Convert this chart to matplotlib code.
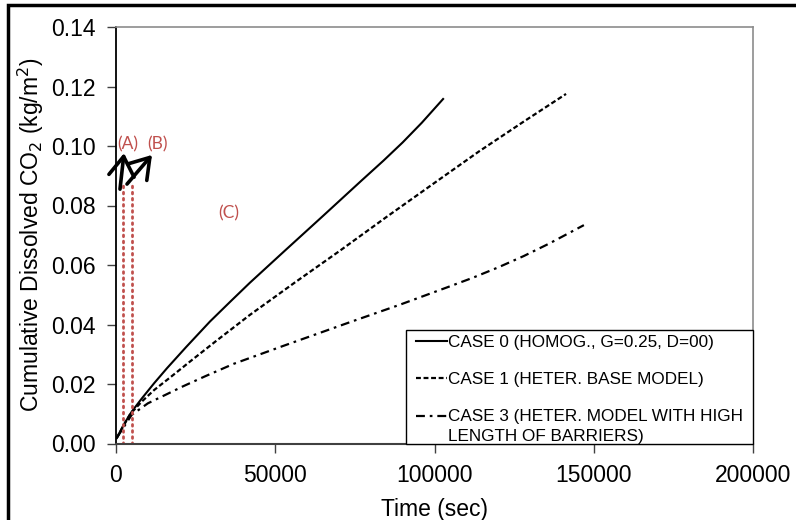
import matplotlib
matplotlib.use("Agg")
import matplotlib.pyplot as plt
from matplotlib.patches import Rectangle
from matplotlib.legend_handler import HandlerLine2D
from matplotlib.ticker import FuncFormatter, MultipleLocator

plt.rcParams['font.family'] = ['Liberation Sans', 'DejaVu Sans']

# ---- data ----
labels = ["CASE 0 (HOMOG., G=0.25, D=00)",
          "CASE 1 (HETER. BASE MODEL)",
          "CASE 3 (HETER. MODEL WITH HIGH\nLENGTH OF BARRIERS)"]

t_case0 = [200, 2500, 5000, 8000, 12000, 16000, 22000, 29500, 36000, 42000, 53000, 65000, 77000, 84000, 90000, 96000, 102700]
v_case0 = [0.0018, 0.0065, 0.0108, 0.0150, 0.0203, 0.0253, 0.0324, 0.0410, 0.0478, 0.0540, 0.0648, 0.0765, 0.0883, 0.0951, 0.1012, 0.1078, 0.1158]

t_case1 = [200, 4400, 8000, 12000, 17000, 24000, 31000, 42000, 56000, 70300, 85000, 100000, 114000, 128000, 141300]
v_case1 = [0.0018, 0.0098, 0.0140, 0.0180, 0.0222, 0.0282, 0.0341, 0.0432, 0.0540, 0.0648, 0.0762, 0.0876, 0.0982, 0.1082, 0.1175]

t_case3 = [200, 4900, 10000, 16000, 21000, 28000, 37000, 52500, 73500, 89000, 104000, 112000, 120000, 128000, 136000, 146900]
v_case3 = [0.0018, 0.0096, 0.0135, 0.0166, 0.0192, 0.0226, 0.0268, 0.0328, 0.0408, 0.0466, 0.0525, 0.0557, 0.0592, 0.0630, 0.0672, 0.0734]

# marker lines (A), (B)
marker_x = [2200, 5000]
marker_top = 0.088

# annotation text positions
annot_text = ["(A)", "(B)", "(C)"]
annot_pos = [(3800, 0.1007), (12900, 0.1007), (35500, 0.0775)]
# arrows: (tail, tip)
arrows = [((1256, 0.0855), (2512, 0.0976)),
          ((3454, 0.0872), (11303, 0.0970))]

xticks = [0, 50000, 100000, 150000, 200000]


class FirstLineHandler(HandlerLine2D):
    """Place the legend handle next to the first line of a two-line label."""
    def __init__(self, shift, **kw):
        super().__init__(**kw)
        self.shift = shift

    def create_artists(self, legend, orig_handle, xdescent, ydescent, width,
                       height, fontsize, trans):
        return super().create_artists(legend, orig_handle, xdescent,
                                      ydescent - 2 * self.shift, width, height,
                                      fontsize, trans)


# ---- figure ----
fig = plt.figure(figsize=(7.96, 5.20), dpi=100)
ax = fig.add_axes([116/796, (520-443.5)/520, (753-116)/796, (443.5-27)/520])

l0, = ax.plot(t_case0, v_case0, color='black', lw=1.5, linestyle='-', label=labels[0])
l1, = ax.plot(t_case1, v_case1, color='black', lw=1.6, linestyle=(0, (2.2, 1.2)), label=labels[1])
l3, = ax.plot(t_case3, v_case3, color='black', lw=1.6, linestyle=(0, (4, 2.2, 1.2, 2.2)), label=labels[2])

red = '#C0504D'
for xm in marker_x:
    ax.plot([xm, xm], [0, marker_top], color=red, lw=2.0,
            linestyle=(0, (0.6, 1.6)), dash_capstyle='round')

for txt, (px, py) in zip(annot_text, annot_pos):
    ax.text(px, py, txt, color=red, fontsize=12.5, family=['Lato', 'DejaVu Sans'],
            ha='center', va='center')

for tail, tip in arrows:
    ax.annotate('', xy=tip, xytext=tail,
                arrowprops=dict(arrowstyle='->,head_length=1.0,head_width=0.65',
                                lw=2.6, color='black', shrinkA=0, shrinkB=0,
                                mutation_scale=14))

ax.set_xlim(0, 200000)
ax.set_ylim(0, 0.14)
ax.set_xticks(xticks)
ax.yaxis.set_major_locator(MultipleLocator(0.02))
ax.xaxis.set_major_formatter(FuncFormatter(lambda v, p: f"{int(v)}"))
ax.yaxis.set_major_formatter(FuncFormatter(lambda v, p: f"{v:.2f}"))
ax.tick_params(axis='both', direction='out', length=6.5, width=1.0,
               color='#404040', labelsize=16.5, pad=8)

for s in ['top', 'right']:
    ax.spines[s].set_color('#8c8c8c')
    ax.spines[s].set_linewidth(1.2)
ax.spines['left'].set_color('black')
ax.spines['left'].set_linewidth(1.3)
ax.spines['bottom'].set_color('#404040')
ax.spines['bottom'].set_linewidth(1.5)

ax.set_xlabel('Time (sec)', fontsize=16.5, labelpad=8)
ax.set_ylabel('Cumulative Dissolved CO$_2$ (kg/m$^2$)', fontsize=16.5, labelpad=4)

# legend box (frame drawn separately, like the spreadsheet text box)
lx0 = (406 - 116) / 637
ly1 = (443.5 - 330) / 416.5
ax.add_patch(Rectangle((lx0, 0), 1 - lx0, ly1, transform=ax.transAxes,
                       facecolor='white', edgecolor='black', lw=1.0, zorder=4,
                       clip_on=False))
leg = ax.legend(handles=[l0, l1, l3], loc='upper left',
                bbox_to_anchor=((411 - 116) / 637, ly1),
                borderaxespad=0, fontsize=12.3, frameon=False,
                handlelength=1.8, handletextpad=0.08, labelspacing=1.28,
                borderpad=0.3,
                handler_map={l3: FirstLineHandler(shift=7.6)})
leg.set_zorder(5)
leg.get_texts()[2].set_linespacing(1.4)

# outer frame
fig.add_artist(Rectangle((8/796, -0.1), 1.2, 1 - 5/520 + 0.1, transform=fig.transFigure,
                         fill=False, edgecolor='black', lw=2.5))

fig.savefig('out.png', dpi=100)
